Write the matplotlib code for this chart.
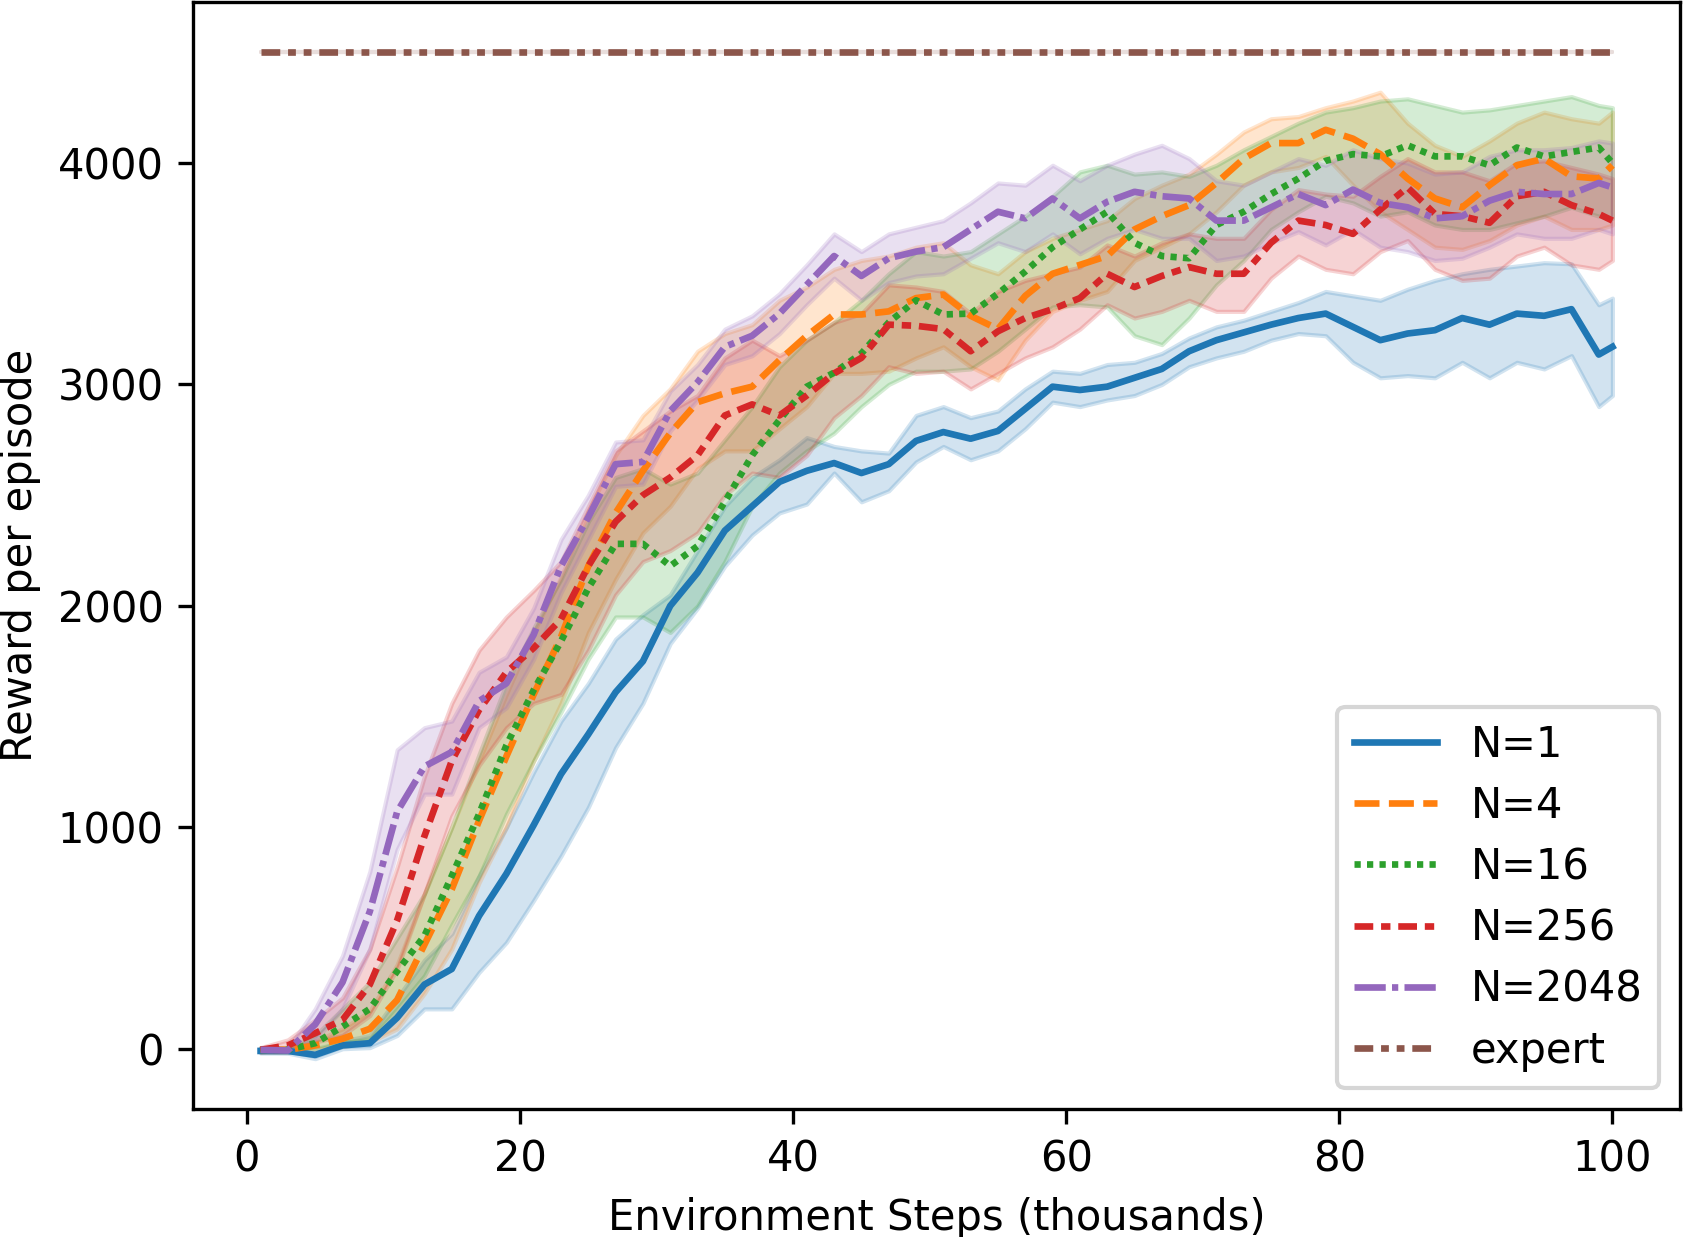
import numpy as np
import matplotlib
matplotlib.use('Agg')
import matplotlib.pyplot as plt

# environment steps (thousands)
steps = [1, 3, 5, 7, 9, 11, 13, 15, 17, 19, 21, 23, 25, 27, 29, 31, 33, 35, 37, 39,
         41, 43, 45, 47, 49, 51, 53, 55, 57, 59, 61, 63, 65, 67, 69, 71, 73, 75, 77, 79,
         81, 83, 85, 87, 89, 91, 93, 95, 97, 99, 100]

# N=1
n1_mean = [-10, -10, -28, 15, 25, 140, 290, 360, 600, 790, 1010, 1240, 1420, 1610, 1750, 2000, 2150, 2340, 2450, 2560,
           2610, 2645, 2600, 2640, 2745, 2785, 2755, 2790, 2890, 2990, 2975, 2990, 3030, 3070, 3150, 3200, 3235, 3270, 3300, 3320,
           3260, 3200, 3230, 3245, 3300, 3270, 3320, 3310, 3340, 3135, 3170]
n1_low = [-20, -20, -45, 0, 5, 60, 180, 180, 345, 480, 670, 870, 1090, 1360, 1560, 1830, 1990, 2180, 2320, 2420,
          2460, 2600, 2470, 2520, 2650, 2720, 2660, 2700, 2800, 2920, 2900, 2930, 2950, 3000, 3080, 3120, 3150, 3200, 3230, 3220,
          3100, 3030, 3040, 3030, 3100, 3030, 3100, 3070, 3130, 2900, 2950]
n1_high = [0, 0, -10, 35, 60, 230, 400, 520, 780, 1000, 1250, 1480, 1650, 1850, 1960, 2050, 2250, 2450, 2580, 2660,
           2760, 2720, 2700, 2690, 2860, 2900, 2850, 2880, 2980, 3060, 3050, 3090, 3100, 3140, 3210, 3260, 3290, 3330, 3370, 3420,
           3400, 3380, 3430, 3470, 3500, 3520, 3535, 3550, 3545, 3360, 3390]

# N=4
n4_mean = [-5, -5, 15, 45, 90, 220, 470, 720, 1030, 1320, 1600, 1860, 2180, 2420, 2610, 2780, 2920, 2960, 2990, 3110,
           3220, 3316, 3316, 3330, 3390, 3406, 3310, 3250, 3400, 3500, 3540, 3580, 3700, 3760, 3810, 3910, 4020, 4090, 4090, 4150,
           4110, 4040, 3930, 3840, 3800, 3900, 3990, 4020, 3940, 3930, 3990]
n4_low = [-15, -15, 0, 10, 30, 90, 250, 450, 750, 1000, 1300, 1560, 1880, 2120, 2330, 2450, 2620, 2700, 2700, 2800,
          2900, 3050, 3050, 3060, 3120, 3170, 3080, 3020, 3200, 3330, 3380, 3420, 3560, 3620, 3680, 3780, 3900, 3960, 3980, 4030,
          3900, 3780, 3700, 3620, 3610, 3650, 3720, 3760, 3700, 3700, 3720]
n4_high = [5, 5, 35, 90, 170, 380, 700, 1000, 1300, 1600, 1880, 2130, 2430, 2680, 2860, 2980, 3150, 3230, 3270, 3380,
           3440, 3520, 3560, 3580, 3620, 3640, 3540, 3500, 3600, 3660, 3700, 3740, 3840, 3900, 3950, 4040, 4140, 4200, 4210, 4250,
           4280, 4320, 4180, 4080, 4030, 4100, 4180, 4230, 4200, 4180, 4230]

# N=16
n16_mean = [-5, -5, 25, 100, 180, 350, 510, 780, 1060, 1370, 1620, 1840, 2080, 2280, 2280, 2180, 2270, 2470, 2680, 2840,
            2990, 3053, 3140, 3280, 3380, 3316, 3320, 3410, 3510, 3620, 3700, 3780, 3640, 3580, 3570, 3720, 3780, 3860, 3930, 4010,
            4040, 4030, 4080, 4030, 4030, 3990, 4070, 4030, 4050, 4070, 4000]
n16_low = [-15, -15, 0, 30, 40, 180, 330, 560, 780, 1060, 1300, 1520, 1760, 1950, 1950, 1880, 2000, 2200, 2450, 2600,
           2700, 2780, 2900, 3000, 3060, 3060, 3070, 3150, 3250, 3350, 3360, 3350, 3220, 3180, 3300, 3450, 3560, 3700, 3780, 3850,
           3820, 3760, 3780, 3720, 3700, 3700, 3730, 3760, 3800, 3760, 3750]
n16_high = [5, 5, 60, 180, 300, 500, 700, 1000, 1330, 1650, 1900, 2120, 2380, 2580, 2620, 2550, 2600, 2750, 2900, 3080,
            3200, 3280, 3380, 3500, 3600, 3580, 3600, 3680, 3760, 3850, 3960, 3990, 3950, 3960, 3940, 3990, 4060, 4120, 4180, 4230,
            4250, 4280, 4290, 4260, 4230, 4240, 4260, 4280, 4300, 4260, 4250]

# N=256
n256_mean = [-5, 15, 70, 130, 290, 580, 960, 1300, 1530, 1700, 1810, 1940, 2180, 2380, 2500, 2580, 2680, 2860, 2910, 2860,
             2950, 3050, 3120, 3270, 3265, 3250, 3150, 3240, 3300, 3340, 3390, 3500, 3440, 3490, 3530, 3500, 3500, 3640, 3740, 3720,
             3680, 3790, 3890, 3770, 3760, 3730, 3850, 3870, 3810, 3770, 3740]
n256_low = [-15, 0, 30, 60, 150, 360, 700, 1050, 1280, 1450, 1560, 1600, 1800, 2050, 2200, 2250, 2330, 2500, 2600, 2580,
            2680, 2850, 2950, 3080, 3050, 3060, 2980, 3050, 3120, 3170, 3250, 3360, 3300, 3330, 3380, 3330, 3330, 3480, 3580, 3520,
            3500, 3600, 3650, 3520, 3470, 3480, 3580, 3620, 3540, 3520, 3560]
n256_high = [5, 40, 130, 230, 450, 820, 1230, 1560, 1800, 1950, 2070, 2200, 2450, 2700, 2790, 2880, 2950, 3120, 3200, 3130,
             3200, 3280, 3320, 3450, 3440, 3420, 3320, 3420, 3470, 3500, 3530, 3630, 3580, 3640, 3680, 3660, 3660, 3790, 3880, 3860,
             3850, 3940, 4020, 3960, 3960, 3920, 4000, 4010, 3980, 3950, 3930]

# N=2048
n2048_mean = [-5, -8, 110, 300, 620, 1070, 1275, 1340, 1570, 1650, 1870, 2180, 2400, 2640, 2650, 2880, 3010, 3170, 3220, 3320,
              3450, 3580, 3490, 3570, 3600, 3620, 3700, 3780, 3750, 3840, 3750, 3825, 3870, 3850, 3840, 3740, 3740, 3800, 3860, 3810,
              3880, 3820, 3800, 3750, 3760, 3830, 3870, 3860, 3860, 3910, 3890]
n2048_low = [-15, -18, 40, 180, 450, 900, 1150, 1150, 1450, 1540, 1760, 2060, 2300, 2540, 2550, 2790, 2930, 3090, 3130, 3230,
             3360, 3480, 3380, 3460, 3490, 3500, 3570, 3640, 3600, 3680, 3590, 3660, 3700, 3660, 3660, 3560, 3580, 3640, 3690, 3630,
             3700, 3620, 3600, 3560, 3570, 3620, 3680, 3660, 3660, 3700, 3680]
n2048_high = [5, 2, 180, 420, 800, 1350, 1450, 1480, 1700, 1770, 1990, 2300, 2500, 2740, 2750, 2970, 3090, 3250, 3310, 3410,
              3540, 3680, 3600, 3680, 3710, 3740, 3820, 3910, 3900, 3990, 3920, 3990, 4040, 4080, 4020, 3920, 3900, 3960, 4020, 3990,
              4060, 4020, 4000, 3950, 3960, 4030, 4060, 4060, 4070, 4100, 4090]

expert_reward = 4500

labels = ['N=1', 'N=4', 'N=16', 'N=256', 'N=2048', 'expert']
dash_specs = ['', (4, 1.5), (1, 1), (3, 1.25, 1.5, 1.25), (5, 1, 1, 1),
              (3, 1.25, 1.25, 1.25, 1.25, 1.25)]
colors = ['tab:blue', 'tab:orange', 'tab:green', 'tab:red', 'tab:purple', 'tab:brown']

expert_line = [expert_reward] * len(steps)
series = [
    (n1_mean, n1_low, n1_high),
    (n4_mean, n4_low, n4_high),
    (n16_mean, n16_low, n16_high),
    (n256_mean, n256_low, n256_high),
    (n2048_mean, n2048_low, n2048_high),
    (expert_line, expert_line, expert_line),
]

fig = plt.figure(figsize=(1683 / 300, 1237 / 300), dpi=300)
ax = fig.add_axes([193 / 1683, 128 / 1237, 1487 / 1683, 1107 / 1237])

for (mean, low, high), label, dash, color in zip(series, labels, dash_specs, colors):
    if dash == '':
        ax.plot(steps, mean, color=color, label=label, linewidth=1.6)
    else:
        ax.plot(steps, mean, color=color, label=label, linewidth=1.6,
                dashes=[d * 1.5 / 1.6 for d in dash])
    ax.fill_between(steps, low, high, color=color, alpha=0.2)

ax.set_xlabel('Environment Steps (thousands)')
ax.set_ylabel('Reward per episode')
ax.legend(loc='lower right', labelspacing=0.46)

fig.savefig('out.png', dpi=300)
